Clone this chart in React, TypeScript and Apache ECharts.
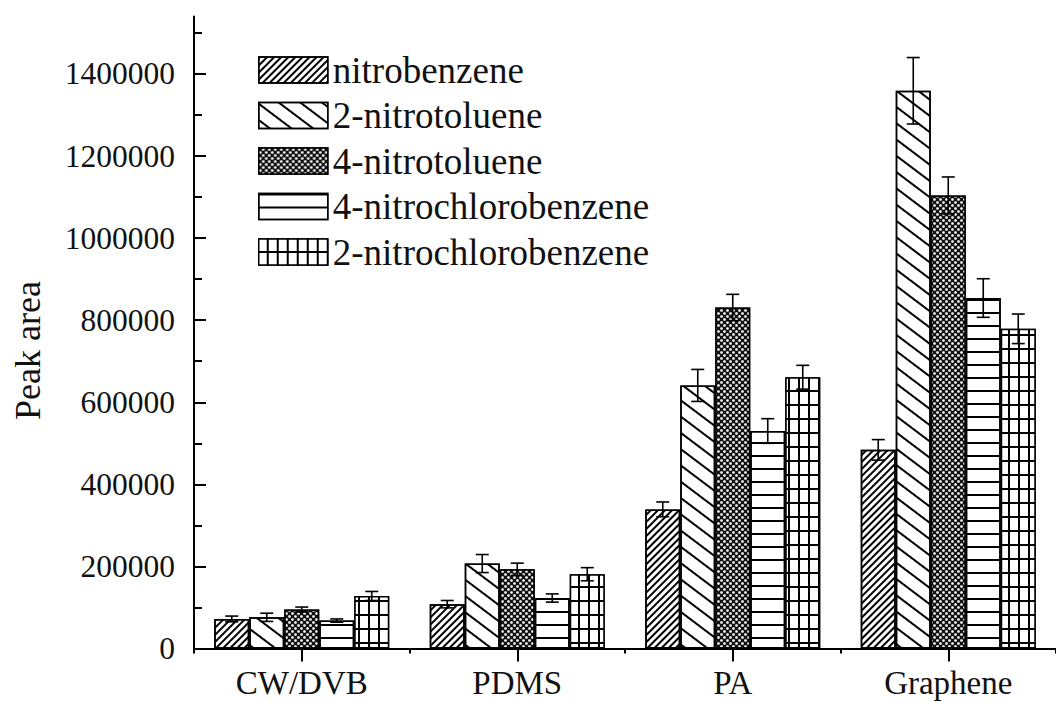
import React, { useEffect, useRef } from 'react';
import * as echarts from 'echarts';

const categories = ['CW/DVB', 'PDMS', 'PA', 'Graphene'];
const seriesNames = [
  'nitrobenzene',
  '2-nitrotoluene',
  '4-nitrotoluene',
  '4-nitrochlorobenzene',
  '2-nitrochlorobenzene',
];

const nitrobenzene = [72000, 108000, 339000, 484000];
const nitrobenzeneErr = [7000, 9000, 18000, 25000];
const nitrotoluene2 = [76000, 207000, 641000, 1359000];
const nitrotoluene2Err = [10000, 22000, 39000, 81000];
const nitrotoluene4 = [95000, 193000, 831000, 1104000];
const nitrotoluene4Err = [6000, 15000, 32000, 45000];
const nitrochlorobenzene4 = [68000, 123000, 530000, 854000];
const nitrochlorobenzene4Err = [4000, 10000, 30000, 47000];
const nitrochlorobenzene2 = [128000, 181000, 661000, 779000];
const nitrochlorobenzene2Err = [11000, 16000, 29000, 36000];

const yMajorTicks = [0, 200000, 400000, 600000, 800000, 1000000, 1200000, 1400000];
const yMinorTicks = [100000, 300000, 500000, 700000, 900000, 1100000, 1300000, 1500000];

const values = [nitrobenzene, nitrotoluene2, nitrotoluene4, nitrochlorobenzene4, nitrochlorobenzene2];
const errors = [nitrobenzeneErr, nitrotoluene2Err, nitrotoluene4Err, nitrochlorobenzene4Err, nitrochlorobenzene2Err];

const FONT = 'Liberation Serif';
const BAR_W = 35;

const fills = ['#fff', '#fff', '#111', '#fff', '#000'];
const decals: any[] = [
  { symbol: 'rect', symbolSize: 1, dashArrayX: [1, 0], dashArrayY: [1.6, 3], rotation: -Math.PI / 4, color: '#000' },
  { symbol: 'rect', symbolSize: 1, dashArrayX: [1, 0], dashArrayY: [1.5, 10.5], rotation: (37 * Math.PI) / 180, color: '#000' },
  { symbol: 'circle', symbolSize: 0.9, dashArrayX: [[2.5, 2.5], [0, 2.5, 2.5, 0]], dashArrayY: [2.5, 0], color: '#fff' },
  { symbol: 'rect', symbolSize: 1, dashArrayX: [1, 0], dashArrayY: [1.8, 10.9], color: '#000' },
  { symbol: 'rect', symbolSize: 1, dashArrayX: [7.25, 1.5], dashArrayY: [11.5, 1.5], color: '#fff' },
];

export default function App() {
  const ref = useRef<HTMLDivElement>(null);
  useEffect(() => {
    if (!ref.current) return;
    const chart = echarts.init(ref.current, null, { renderer: 'svg' });

    const barSeries = seriesNames.map((name, k) => ({
      name,
      type: 'bar',
      xAxisIndex: 0,
      yAxisIndex: 0,
      barWidth: BAR_W,
      barGap: '0%',
      data: values[k],
      itemStyle: { color: fills[k], borderColor: '#000', borderWidth: 1.5, decal: decals[k] },
      z: 2,
    }));

    const errSeries = seriesNames.map((name, k) => ({
      name: name + ' error',
      type: 'custom',
      xAxisIndex: 0,
      yAxisIndex: 0,
      z: 5,
      data: values[k].map((v, i) => [i, v, errors[k][i]]),
      renderItem: (params: any, api: any) => {
        const ci = api.value(0);
        const v = api.value(1);
        const e = api.value(2);
        const top = api.coord([ci, v + e]);
        const bot = api.coord([ci, v - e]);
        const x = top[0] + (k - 2) * BAR_W;
        const hw = 6.5;
        const st = { stroke: '#000', lineWidth: 1.6 };
        return {
          type: 'group',
          children: [
            { type: 'line', shape: { x1: x, y1: top[1], x2: x, y2: bot[1] }, style: st },
            { type: 'line', shape: { x1: x - hw, y1: top[1], x2: x + hw, y2: top[1] }, style: st },
            { type: 'line', shape: { x1: x - hw, y1: bot[1], x2: x + hw, y2: bot[1] }, style: st },
          ],
        };
      },
    }));

    chart.setOption({
      animation: false,
      backgroundColor: '#fff',
      grid: { left: 194, top: 16.5, width: 869, height: 632, containLabel: false },
      legend: {
        data: seriesNames,
        orient: 'vertical',
        left: 258,
        top: 51.5,
        padding: 0,
        icon: 'rect',
        itemWidth: 69,
        itemHeight: 26,
        itemGap: 8.5,
        itemStyle: { borderColor: '#000', borderWidth: 1.5 },
        textStyle: { fontFamily: FONT, fontSize: 37, lineHeight: 37, color: '#111' },
      },
      xAxis: [
        {
          type: 'category',
          data: categories,
          position: 'bottom',
          axisLine: { show: true, lineStyle: { color: '#000', width: 2 } },
          axisTick: { show: true, alignWithLabel: true, inside: false, length: 13, lineStyle: { color: '#000', width: 2 } },
          axisLabel: { fontFamily: FONT, fontSize: 33, color: '#111', margin: 18 },
          splitLine: { show: false },
        },
        {
          type: 'category',
          data: categories,
          position: 'bottom',
          axisLine: { show: false },
          axisTick: { show: true, inside: false, length: 5, lineStyle: { color: '#000', width: 2 } },
          axisLabel: { show: false },
          splitLine: { show: false },
        },
      ],
      yAxis: [
        {
          type: 'value',
          min: 0,
          max: 1540000,
          position: 'left',
          name: 'Peak area',
          nameLocation: 'middle',
          nameGap: 148,
          nameRotate: 90,
          nameTextStyle: { fontFamily: FONT, fontSize: 36, color: '#111', padding: [0, 36, 0, 0] },
          axisLine: { show: true, lineStyle: { color: '#000', width: 2 } },
          axisTick: { show: true, inside: true, length: 12, customValues: yMajorTicks, lineStyle: { color: '#000', width: 2 } },
          axisLabel: {
            fontFamily: FONT,
            fontSize: 31.5,
            color: '#111',
            margin: 19,
            customValues: yMajorTicks,
            formatter: (v: number) => String(v),
          },
          splitLine: { show: false },
        },
        {
          type: 'value',
          min: 0,
          max: 1540000,
          position: 'left',
          axisLine: { show: false },
          axisTick: { show: true, inside: true, length: 8, customValues: yMinorTicks, lineStyle: { color: '#000', width: 2 } },
          axisLabel: { show: false },
          splitLine: { show: false },
        },
      ],
      series: [...barSeries, ...errSeries],
    });
    return () => chart.dispose();
  }, []);
  return <div ref={ref} style={{ position: 'fixed', left: 0, top: 0, width: 1056, height: 702 }} />;
}
